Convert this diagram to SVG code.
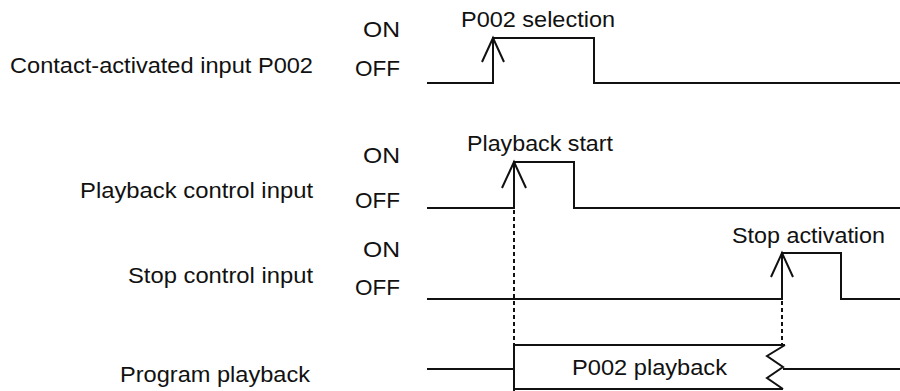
<svg xmlns="http://www.w3.org/2000/svg" width="900" height="391" viewBox="0 0 900 391">
<style>
text{font-family:"Liberation Sans",Arial,sans-serif;font-size:22px;fill:#111}
.r{text-anchor:end}
.w{fill:none;stroke:#111;stroke-width:2;stroke-linejoin:miter}
.d{fill:none;stroke:#111;stroke-width:2;stroke-dasharray:4 3}
</style>
<rect width="900" height="391" fill="#fff"/>
<g id="labels">
<text class="r" x="313" y="73" textLength="303" lengthAdjust="spacingAndGlyphs">Contact-activated input P002</text>
<text class="r" x="313" y="198" textLength="233" lengthAdjust="spacingAndGlyphs">Playback control input</text>
<text class="r" x="313" y="283" textLength="185" lengthAdjust="spacingAndGlyphs">Stop control input</text>
<text class="r" x="310" y="382" textLength="190" lengthAdjust="spacingAndGlyphs">Program playback</text>
<text x="363" y="37" textLength="37" lengthAdjust="spacingAndGlyphs">ON</text>
<text x="355" y="76" textLength="45" lengthAdjust="spacingAndGlyphs">OFF</text>
<text x="363" y="163" textLength="37" lengthAdjust="spacingAndGlyphs">ON</text>
<text x="355" y="208" textLength="45" lengthAdjust="spacingAndGlyphs">OFF</text>
<text x="363" y="257" textLength="37" lengthAdjust="spacingAndGlyphs">ON</text>
<text x="355" y="295" textLength="45" lengthAdjust="spacingAndGlyphs">OFF</text>
</g>
<g id="signal-p002">
<path class="w" d="M427 83 H493 V38 H594 V83 H900"/>
<path class="w" d="M482 62 L493 38 L504 62"/>
<text x="461" y="27" textLength="154" lengthAdjust="spacingAndGlyphs">P002 selection</text>
</g>
<g id="signal-playback">
<path class="w" d="M427 208 H514 V162 H574 V208 H900"/>
<path class="w" d="M502 188 L514 162 L526 188"/>
<text x="467" y="151" textLength="146" lengthAdjust="spacingAndGlyphs">Playback start</text>
</g>
<g id="signal-stop">
<path class="w" d="M427 299 H782 V253 H841 V299 H900"/>
<path class="w" d="M771 277 L782 253 L793 277"/>
<text x="732" y="243" textLength="153" lengthAdjust="spacingAndGlyphs">Stop activation</text>
</g>
<g id="signal-program">
<path class="w" d="M427 369 H514"/>
<path class="w" d="M785 345 H514 V391"/>
<path class="w" d="M514 389 H783"/>
<path class="w" d="M785 345 L767 356 L783 367 L767 378 L783 389"/>
<path class="w" d="M783 369 H900"/>
<text x="572" y="375" textLength="155" lengthAdjust="spacingAndGlyphs">P002 playback</text>
</g>
<g id="connectors">
<path class="d" d="M514 210 V345"/>
<path class="d" d="M782 301 V345"/>
</g>
</svg>
